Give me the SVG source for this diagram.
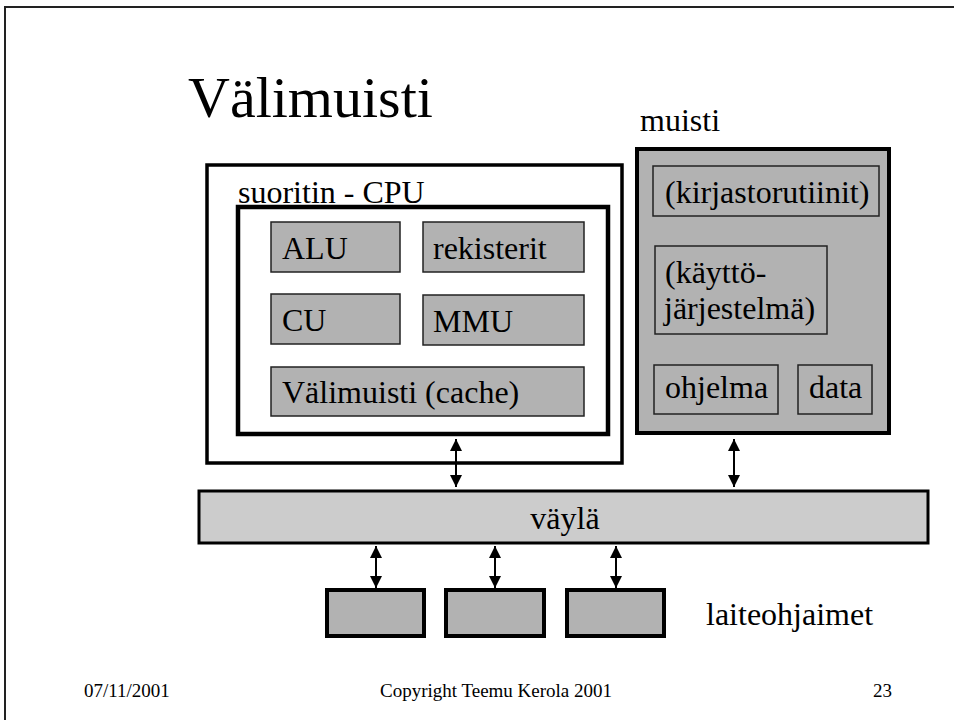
<svg xmlns="http://www.w3.org/2000/svg" width="954" height="720" viewBox="0 0 954 720">
  <style>
    text { font-family: "Liberation Serif", "Times New Roman", serif; fill: #000; }
    .lbl { font-size: 32px; }
    .title { font-size: 58px; }
    .foot { font-size: 19px; }
    .box { fill: #b2b2b2; stroke: #222; stroke-width: 1.5; }
    .dev { fill: #b2b2b2; stroke: #000; stroke-width: 4; }
    .conn { stroke: #000; stroke-width: 2; fill: none; marker-start: url(#ah); marker-end: url(#ah); }
  </style>
  <defs>
    <marker id="ah" viewBox="0 0 12 12" refX="12" refY="6" markerWidth="12" markerHeight="12" markerUnits="userSpaceOnUse" orient="auto-start-reverse">
      <path d="M0,0 L12,6 L0,12 z" fill="#000"/>
    </marker>
  </defs>
  <rect width="954" height="720" fill="#fff"/>
  <path d="M5,720 L5,7 L954,7" fill="none" stroke="#222" stroke-width="2"/>

  <text class="title" x="188" y="117">Välimuisti</text>

  <g id="cpu">
    <rect x="207" y="165" width="415" height="298" fill="#fff" stroke="#000" stroke-width="3.5"/>
    <text class="lbl" x="238" y="203">suoritin - CPU</text>
    <rect x="238" y="207" width="370" height="227" fill="#fff" stroke="#000" stroke-width="4.5"/>
  </g>
  <g id="alu">
    <rect class="box" x="271" y="222" width="129" height="50"/>
    <text class="lbl" x="282" y="259">ALU</text>
  </g>
  <g id="rekisterit">
    <rect class="box" x="423" y="222" width="161" height="50"/>
    <text class="lbl" x="433" y="259">rekisterit</text>
  </g>
  <g id="cu">
    <rect class="box" x="271" y="294" width="129" height="50"/>
    <text class="lbl" x="282" y="331">CU</text>
  </g>
  <g id="mmu">
    <rect class="box" x="423" y="295" width="161" height="50"/>
    <text class="lbl" x="433" y="332">MMU</text>
  </g>
  <g id="cache">
    <rect class="box" x="271" y="367" width="313" height="49"/>
    <text class="lbl" x="282" y="403">Välimuisti (cache)</text>
  </g>

  <g id="muisti">
    <text class="lbl" x="640" y="131">muisti</text>
    <rect x="637" y="149" width="252" height="284" fill="#b2b2b2" stroke="#000" stroke-width="4"/>
  </g>
  <g id="kirjastorutiinit">
    <rect class="box" x="653" y="166" width="226" height="50"/>
    <text class="lbl" x="665" y="203">(kirjastorutiinit)</text>
  </g>
  <g id="kayttojarjestelma">
    <rect class="box" x="655" y="246" width="172" height="88"/>
    <text class="lbl" x="665" y="283">(käyttö-</text>
    <text class="lbl" x="664" y="319">järjestelmä)</text>
  </g>
  <g id="ohjelma">
    <rect class="box" x="654" y="365" width="124" height="49"/>
    <text class="lbl" x="665" y="398">ohjelma</text>
  </g>
  <g id="data">
    <rect class="box" x="798" y="365" width="74" height="49"/>
    <text class="lbl" x="809" y="398">data</text>
  </g>

  <g id="vayla">
    <rect x="199" y="491" width="729" height="52" fill="#cccccc" stroke="#000" stroke-width="3"/>
    <text class="lbl" x="565" y="529" text-anchor="middle">väylä</text>
  </g>

  <g id="dev1"><rect class="dev" x="327" y="590" width="97" height="46"/></g>
  <g id="dev2"><rect class="dev" x="446" y="590" width="98" height="46"/></g>
  <g id="dev3"><rect class="dev" x="567" y="590" width="97" height="46"/></g>
  <text class="lbl" x="706" y="625">laiteohjaimet</text>

  <g id="connectors">
    <line class="conn" x1="456" y1="439" x2="456" y2="487"/>
    <line class="conn" x1="734" y1="439" x2="734" y2="487"/>
    <line class="conn" x1="376" y1="546" x2="376" y2="588"/>
    <line class="conn" x1="495" y1="546" x2="495" y2="588"/>
    <line class="conn" x1="616" y1="546" x2="616" y2="588"/>
  </g>

  <text class="foot" x="84" y="697">07/11/2001</text>
  <text class="foot" x="496" y="697" text-anchor="middle">Copyright Teemu Kerola 2001</text>
  <text class="foot" x="892" y="697" text-anchor="end">23</text>
</svg>
